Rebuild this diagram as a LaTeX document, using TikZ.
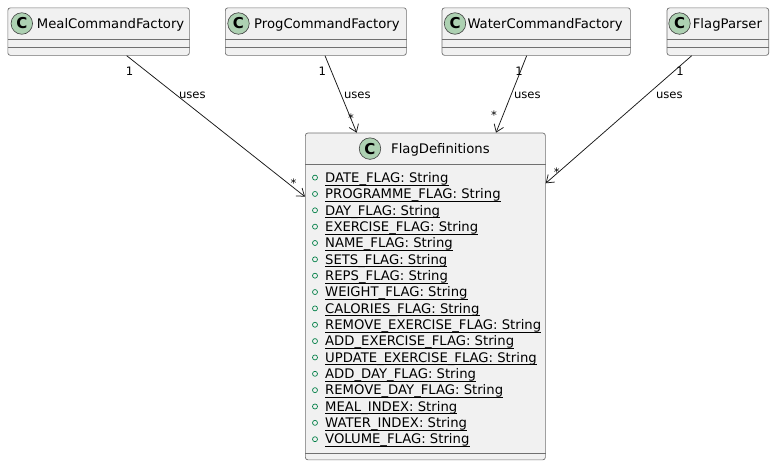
\documentclass[tikz,border=0pt]{standalone}
\usepackage{fontspec}
\setmainfont{DejaVu Sans}
\usetikzlibrary{arrows.meta,calc}
\definecolor{boxfill}{HTML}{F1F1F1}
\definecolor{boxline}{HTML}{707070}
\definecolor{linkline}{HTML}{181818}
\definecolor{iconfill}{HTML}{ADD1B2}
\definecolor{iconline}{HTML}{404040}
\definecolor{pubgreen}{HTML}{038048}
\begin{document}
\begin{tikzpicture}[x=1pt,y=-1pt,
  classbox/.style={draw=boxline, fill=boxfill, line width=0.7pt, rounded corners=2.5pt, anchor=north west, inner sep=0pt},
  sepline/.style={draw=boxline, line width=0.7pt},
  icon/.style={circle, draw=iconline, fill=iconfill, line width=0.6pt, minimum size=21.5pt, inner sep=0pt, font=\fontsize{15}{15}\selectfont\bfseries},
  cname/.style={anchor=base west, inner sep=0pt, font=\fontsize{13.2}{15}\selectfont, text=black},
  attr/.style={anchor=base west, inner sep=0pt, font=\fontsize{13.2}{15}\selectfont, text=black},
  uline/.style={draw=black, line width=0.75pt},
  lbl/.style={inner sep=0pt, font=\fontsize{11.6}{13}\selectfont, text=black},
  link/.style={draw=linkline, line width=0.75pt, -{Straight Barb[length=7pt,width=10pt,line width=0.75pt]}}
]
\useasboundingbox[fill=white] (0,0) rectangle (774,466);

% ---- top classes ----
\node[classbox, minimum width=181.5pt, minimum height=47.5pt] (meal) at (7.5,7.5) {};
\node[classbox, minimum width=181pt, minimum height=47.5pt] (prog) at (225,7.5) {};
\node[classbox, minimum width=188.3pt, minimum height=47.5pt] (water) at (441.7,7.5) {};
\node[classbox, minimum width=101.6pt, minimum height=47.5pt] (parser) at (666.7,7.5) {};
\foreach \c in {meal,prog,water,parser}{
  \draw[sepline] ([yshift=-31.8pt]\c.north west) -- ([yshift=-31.8pt]\c.north east);
  \draw[sepline] ([yshift=-39.8pt]\c.north west) -- ([yshift=-39.8pt]\c.north east);
}
\node[icon] (mealicon) at (21.8,23.5) {C};
\node[icon] (progicon) at (238.5,23.5) {C};
\node[icon] (watericon) at (455,23.5) {C};
\node[icon] (parsericon) at (679.5,23.5) {C};
\node[cname] (mealname) at (36.7,28.6) {MealCommandFactory};
\node[cname] (progname) at (254,28.6) {ProgCommandFactory};
\node[cname] (watername) at (467.3,28.6) {WaterCommandFactory};
\node[cname] (parsername) at (692.7,28.6) {FlagParser};

% ---- FlagDefinitions ----
\node[classbox, minimum width=240pt, minimum height=326.8pt] (fd) at (305,132.7) {};
\draw[sepline] ([yshift=-31.3pt]fd.north west) -- ([yshift=-31.3pt]fd.north east);
\draw[sepline] ([yshift=7.2pt]fd.south west) -- ([yshift=7.2pt]fd.south east);
\node[icon] (fdicon) at (370,148.6) {C};
\node[cname] (fdname) at (391,153.3) {FlagDefinitions};

\foreach \t [count=\i from 0] in {DATE\_FLAG, PROGRAMME\_FLAG, DAY\_FLAG, EXERCISE\_FLAG, NAME\_FLAG, SETS\_FLAG, REPS\_FLAG, WEIGHT\_FLAG, CALORIES\_FLAG, REMOVE\_EXERCISE\_FLAG, ADD\_EXERCISE\_FLAG, UPDATE\_EXERCISE\_FLAG, ADD\_DAY\_FLAG, REMOVE\_DAY\_FLAG, MEAL\_INDEX, WATER\_INDEX, VOLUME\_FLAG}{
  \node[attr] (a\i) at (325,{182.3+16.35*\i}) {\t: String};
  \draw[uline] ([yshift=-2.6pt]a\i.base west) -- ([yshift=-2.6pt]a\i.base east);
  \draw[pubgreen, line width=0.7pt] (315,{177.6+16.35*\i}) circle (2.5pt);
}

% ---- connectors ----
\draw[link] ([xshift=119.2pt]meal.south west) -- ([yshift=-64pt]fd.north west);
\draw[link] ([xshift=100pt]prog.south west) -- ([xshift=51.7pt]fd.north west);
\draw[link] ([xshift=85pt]water.south west) -- ([xshift=191pt]fd.north west);
\draw[link] ([xshift=25pt]parser.south west) -- ([yshift=-50.6pt]fd.north east);

% ---- labels ----
\node[lbl] (m1) at (129.5,71.5) {1};
\node[lbl] (mu) at (192.3,95) {uses};
\node[lbl] (ms) at (293.5,183) {*};
\node[lbl] (p1) at (322.3,71.5) {1};
\node[lbl] (pu) at (357.3,95) {uses};
\node[lbl] (ps) at (351,118) {*};
\node[lbl] (w1) at (519,71.5) {1};
\node[lbl] (wu) at (527.3,95) {uses};
\node[lbl] (ws) at (494,115.5) {*};
\node[lbl] (f1) at (680,71.5) {1};
\node[lbl] (fu) at (669.3,95) {uses};
\node[lbl] (fs) at (556.7,172) {*};
\end{tikzpicture}
\end{document}
